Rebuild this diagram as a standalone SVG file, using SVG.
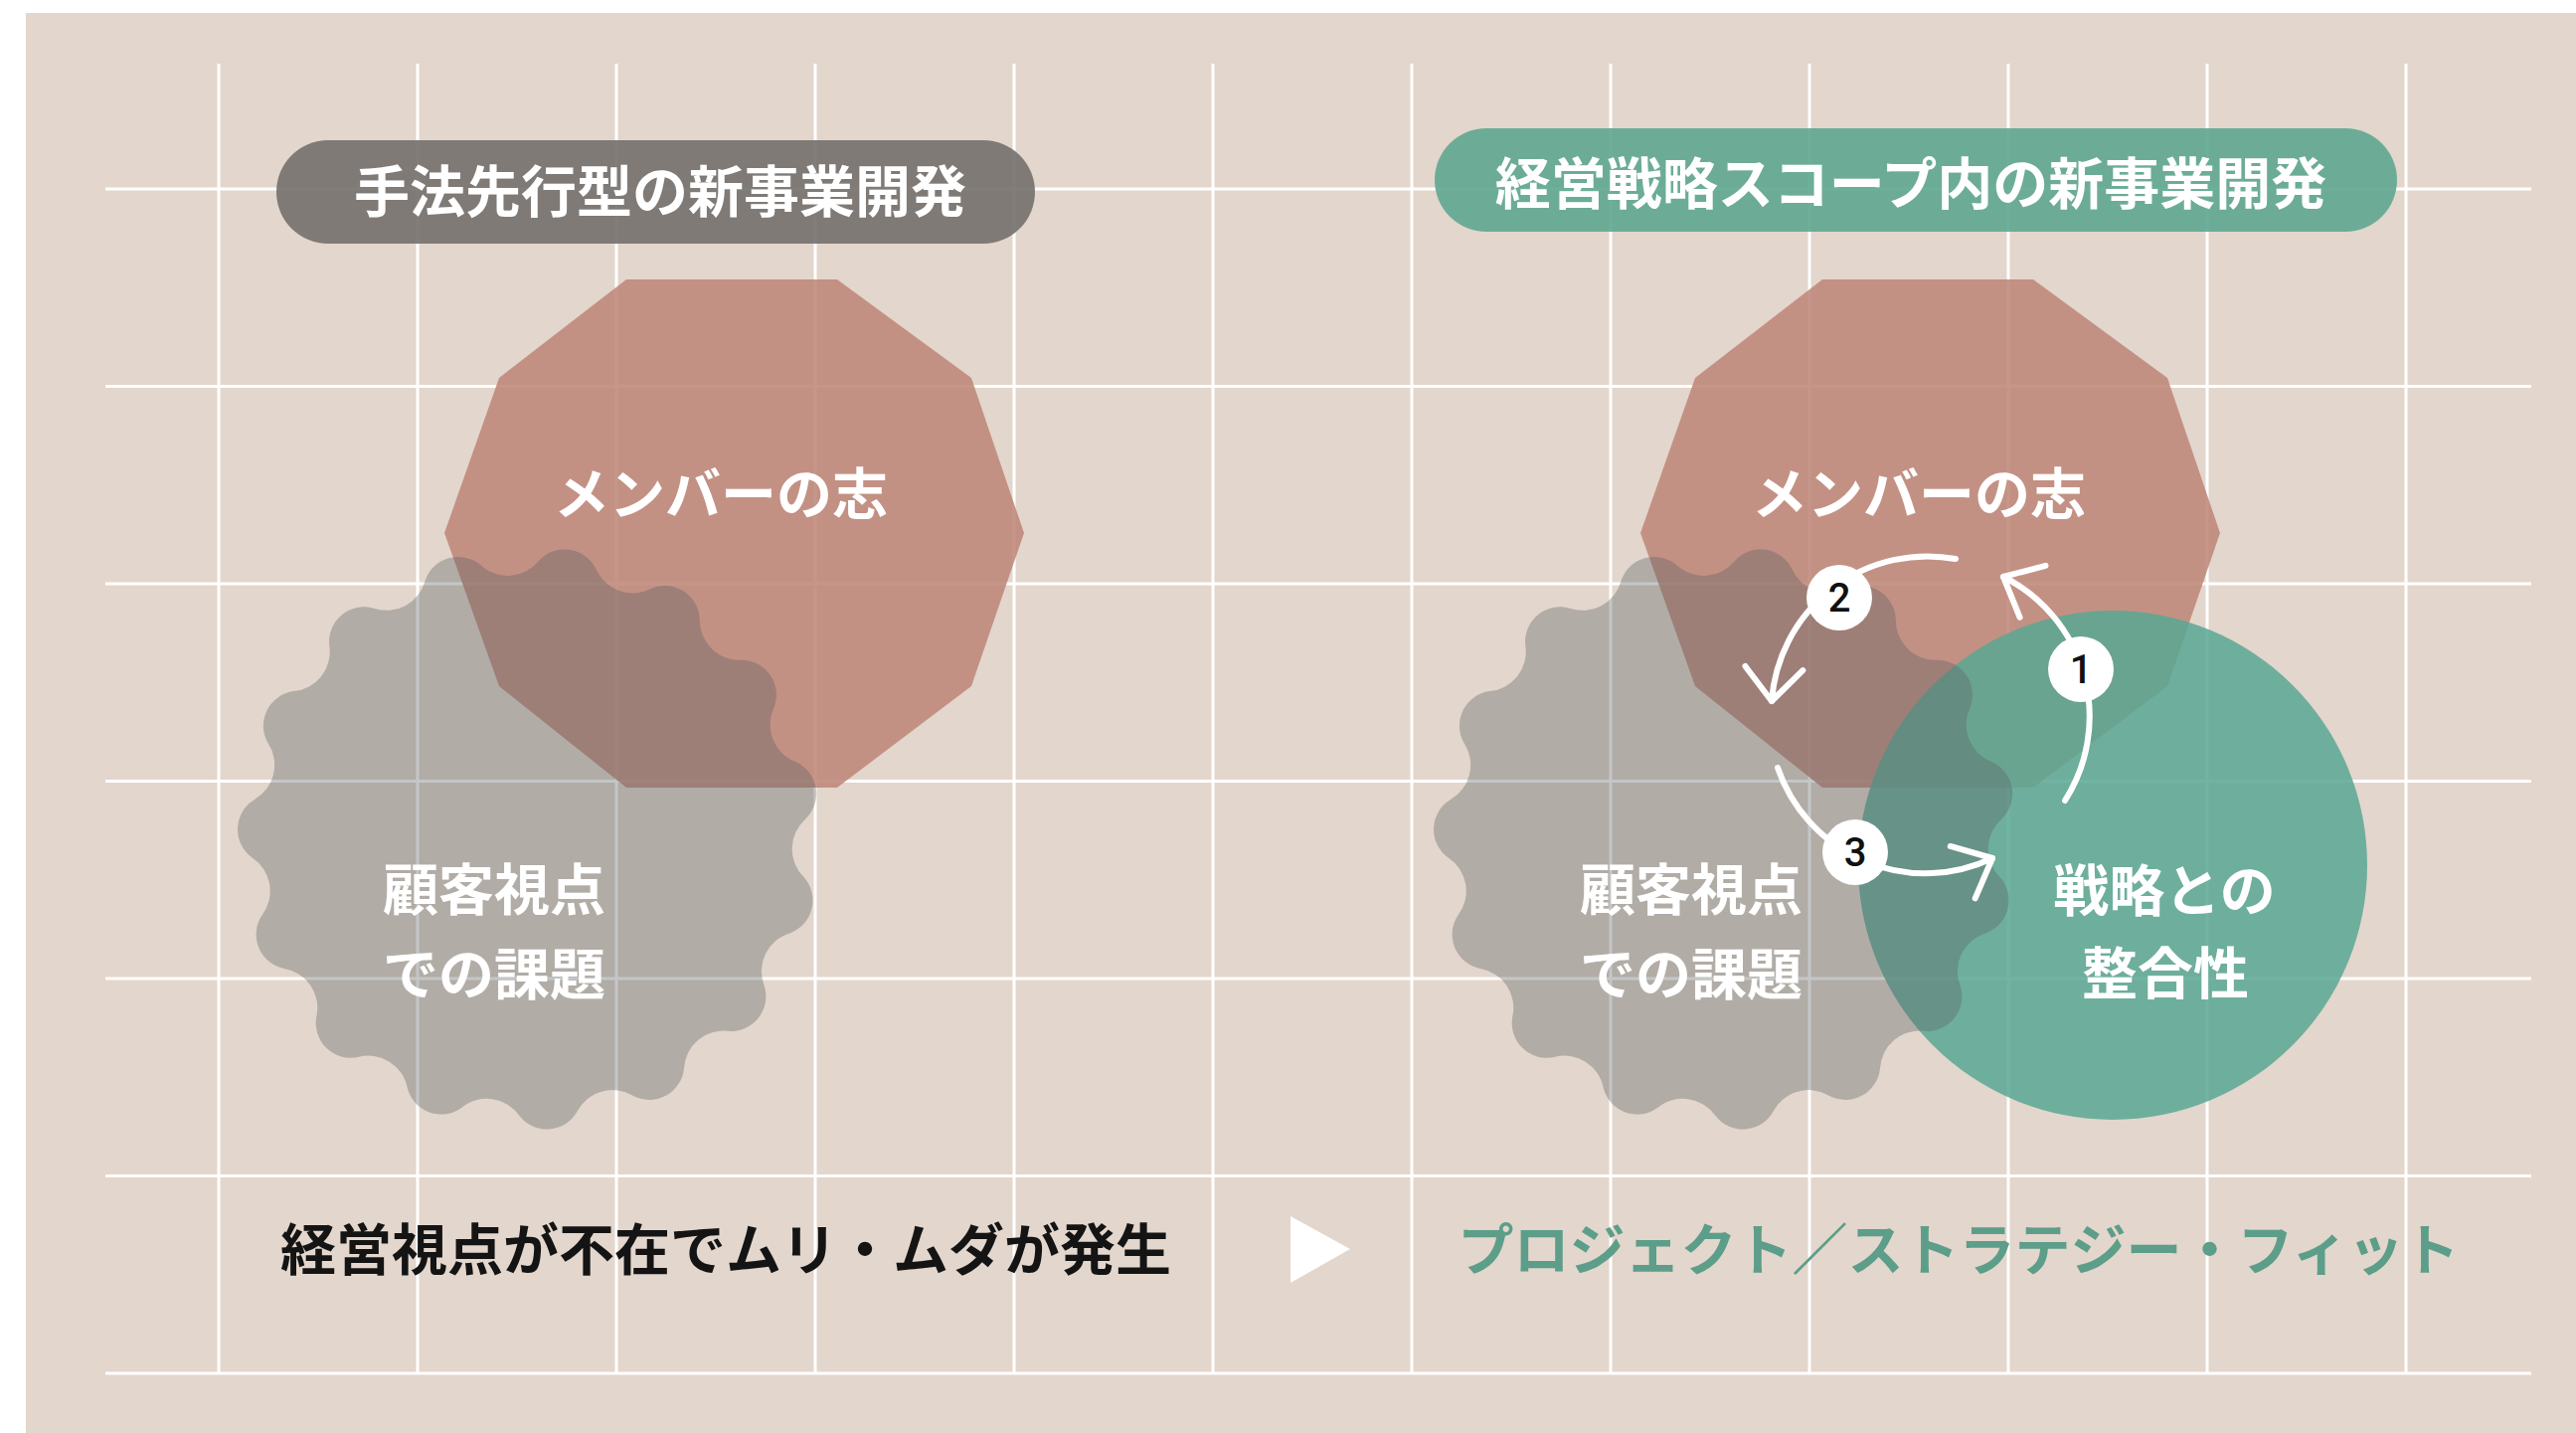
<svg xmlns="http://www.w3.org/2000/svg" width="2591" height="1441" viewBox="0 0 2591 1441">
  <style>
    .grid line { stroke: #ffffff; stroke-width: 3; }
    .pill-gray { fill: #76726F; opacity: 0.92; }
    .pill-green { fill: #62A893; opacity: 0.92; }
    .deca { fill: #BE877A; opacity: 0.88; }
    .blob { fill: #5C6064; opacity: 0.36; }
    .circ { fill: #59A793; opacity: 0.85; }
    text { font-family: "Noto Sans CJK JP", "Noto Sans CJK SC", sans-serif; }
    .title { font-size: 56px; font-weight: 700; fill: #ffffff; text-anchor: middle; dominant-baseline: central; }
    .label { font-size: 56px; font-weight: 700; fill: #ffffff; dominant-baseline: central; }
    .mid { text-anchor: middle; }
    .bottom { font-size: 56px; font-weight: 700; text-anchor: middle; dominant-baseline: central; }
    .arrow { fill: none; stroke: #ffffff; stroke-width: 6; stroke-linecap: round; marker-end: url(#chev); }
    .badge circle { fill: #ffffff; }
    .badge text { font-family: Roboto, "Noto Sans", "Liberation Sans", sans-serif; font-size: 40px; font-weight: 500; fill: #111111; text-anchor: middle; dominant-baseline: central; }
  </style>
  <defs>
    <marker id="chev" viewBox="-40 -40 80 80" refX="0" refY="0" markerWidth="80" markerHeight="80" markerUnits="userSpaceOnUse" orient="auto">
      <path d="M-33,-29 L0,0 L-33,29" fill="none" stroke="#ffffff" stroke-width="6" stroke-linecap="round" stroke-linejoin="round"/>
    </marker>
    <path id="blobShape" d="M276.3,38.8 A35,35 0 0 1 262.2,95.4 A40,40 0 0 0 236.6,147.9 A35,35 0 0 1 200.7,193.8 A40,40 0 0 0 156,231.3 A35,35 0 0 1 104.5,258.7 A40,40 0 0 0 48.5,274.8 A35,35 0 0 1 -9.7,278.8 A40,40 0 0 0 -67.5,270.7 A35,35 0 0 1 -122.3,250.8 A40,40 0 0 0 -171.8,219.9 A35,35 0 0 1 -213.7,179.3 A40,40 0 0 0 -246.3,131 A35,35 0 0 1 -268.2,76.9 A40,40 0 0 0 -278.3,19.5 A35,35 0 0 1 -276.3,-38.8 A40,40 0 0 0 -262.2,-95.4 A35,35 0 0 1 -236.6,-147.9 A40,40 0 0 0 -200.7,-193.8 A35,35 0 0 1 -156,-231.3 A40,40 0 0 0 -104.5,-258.7 A35,35 0 0 1 -48.5,-274.8 A40,40 0 0 0 9.7,-278.8 A35,35 0 0 1 67.5,-270.7 A40,40 0 0 0 122.3,-250.8 A35,35 0 0 1 171.8,-219.9 A40,40 0 0 0 213.7,-179.3 A35,35 0 0 1 246.3,-131 A40,40 0 0 0 268.2,-76.9 A35,35 0 0 1 278.3,-19.5 A40,40 0 0 0 276.3,38.8 Z"/>
    <polygon id="decaShape" points="-109,-255 103,-255 238,-156 291,0 238,154 103,256 -109,256 -237,154 -292,0 -237,-156"/>
  </defs>

  <rect x="0" y="0" width="2591" height="1441" fill="#ffffff"/>
  <rect id="background" x="26" y="13" width="2565" height="1428" fill="#E3D6CC"/>

  <g id="grid" class="grid">
    <line x1="220" y1="64" x2="220" y2="1381"/>
    <line x1="420" y1="64" x2="420" y2="1381"/>
    <line x1="620" y1="64" x2="620" y2="1381"/>
    <line x1="820" y1="64" x2="820" y2="1381"/>
    <line x1="1020" y1="64" x2="1020" y2="1381"/>
    <line x1="1220" y1="64" x2="1220" y2="1381"/>
    <line x1="1420" y1="64" x2="1420" y2="1381"/>
    <line x1="1620" y1="64" x2="1620" y2="1381"/>
    <line x1="1820" y1="64" x2="1820" y2="1381"/>
    <line x1="2020" y1="64" x2="2020" y2="1381"/>
    <line x1="2220" y1="64" x2="2220" y2="1381"/>
    <line x1="2420" y1="64" x2="2420" y2="1381"/>
    <line x1="106" y1="190" x2="2546" y2="190"/>
    <line x1="106" y1="388.5" x2="2546" y2="388.5"/>
    <line x1="106" y1="587" x2="2546" y2="587"/>
    <line x1="106" y1="785.5" x2="2546" y2="785.5"/>
    <line x1="106" y1="984" x2="2546" y2="984"/>
    <line x1="106" y1="1182.5" x2="2546" y2="1182.5"/>
    <line x1="106" y1="1381" x2="2546" y2="1381"/>
  </g>

  <!-- Left panel -->
  <g id="left-title">
    <rect class="pill-gray" x="278" y="141" width="763" height="104" rx="52"/>
    <text class="title" x="664" y="188">手法先行型の新事業開発</text>
  </g>
  <g id="left-aspiration">
    <use href="#decaShape" class="deca" transform="translate(739,536)"/>
    <text class="label mid" x="725" y="492">メンバーの志</text>
  </g>
  <g id="left-customer">
    <use href="#blobShape" class="blob" transform="translate(532,843)"/>
    <text class="label" x="385" y="890">顧客視点</text>
    <text class="label" x="385" y="975">での課題</text>
  </g>
  <g id="left-result">
    <text class="bottom" x="730" y="1252" fill="#141414">経営視点が不在でムリ・ムダが発生</text>
  </g>

  <g id="transition-arrow">
    <polygon points="1298,1223 1358,1256 1298,1290" fill="#ffffff"/>
  </g>

  <!-- Right panel -->
  <g id="right-title">
    <rect class="pill-green" x="1443" y="129" width="968" height="104" rx="52"/>
    <text class="title" x="1922" y="180">経営戦略スコープ内の新事業開発</text>
  </g>
  <g id="right-aspiration">
    <use href="#decaShape" class="deca" transform="translate(1942,536)"/>
    <text class="label mid" x="1930" y="492">メンバーの志</text>
  </g>
  <g id="right-strategy">
    <circle class="circ" cx="2125" cy="870" r="256"/>
    <text class="label mid" x="2177" y="891">戦略との</text>
    <text class="label mid" x="2178" y="974">整合性</text>
  </g>
  <g id="right-customer">
    <use href="#blobShape" class="blob" transform="translate(1735,843)"/>
    <text class="label" x="1589" y="890">顧客視点</text>
    <text class="label" x="1589" y="975">での課題</text>
  </g>
  <g id="right-result">
    <text class="bottom" x="1970" y="1252" fill="#5C9E89">プロジェクト／ストラテジー・フィット</text>
  </g>

  <g id="connectors">
    <path class="arrow" d="M2077,805 A157,157 0 0 0 2015,580"/>
    <path class="arrow" d="M1967,562 A157,157 0 0 0 1782,705"/>
    <path class="arrow" d="M1788,772 A157,157 0 0 0 2004,863"/>
  </g>

  <g id="badge-1" class="badge">
    <circle cx="2093" cy="673" r="33"/>
    <text x="2093" y="673">1</text>
  </g>
  <g id="badge-2" class="badge">
    <circle cx="1850" cy="601" r="33"/>
    <text x="1850" y="601">2</text>
  </g>
  <g id="badge-3" class="badge">
    <circle cx="1866" cy="857" r="33"/>
    <text x="1866" y="857">3</text>
  </g>
</svg>
